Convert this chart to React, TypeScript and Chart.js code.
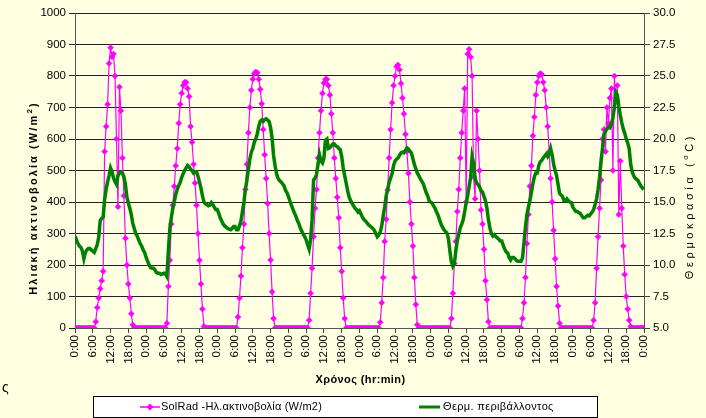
import React, { useEffect, useRef } from "react";
import { Chart, registerables } from "chart.js";

Chart.register(...registerables);

// Half-hour samples, 48 per day, 8 days (+ final midnight point)
const STEP_HOURS = 0.5;

// Solar radiation (W/m2)
const radDay1 = [0,0,0,0,0,0,0,0,0,0,0,0,0,0,20,65,95,125,150,180,560,640,710,840,890,860,870,800,600,385,765,690,540,420,285,200,140,95,45,10,0,0,0,0,0,0,0,0];
const radDay2 = [0,0,0,0,0,0,0,0,0,0,0,0,0,0,15,132,215,330,390,450,515,570,650,710,745,770,780,780,760,735,640,590,520,460,390,300,215,140,60,5,0,0,0,0,0,0,0,0];
const radDay3 = [0,0,0,0,0,0,0,0,0,0,0,0,0,0,35,95,165,255,330,440,520,620,700,755,790,808,813,810,790,758,712,630,550,475,395,300,216,115,30,0,0,0,0,0,0,0,0,0];
const radDay4 = [0,0,0,0,0,0,0,0,0,0,0,0,0,0,25,110,190,290,380,440,540,620,690,745,778,790,790,770,740,680,620,540,475,415,350,255,180,95,30,0,0,0,0,0,0,0,0,0];
const radDay5 = [0,0,0,0,0,0,0,0,0,0,0,0,0,0,18,80,160,275,345,438,540,630,715,770,800,830,835,820,776,730,680,615,560,491,400,330,260,160,75,10,0,0,0,0,0,0,0,0];
const radDay6 = [0,0,0,0,0,0,0,0,0,0,0,0,0,0,30,110,205,275,370,440,540,620,690,760,400,870,885,860,800,480,410,690,600,500,375,330,250,150,90,20,0,0,0,0,0,0,0,0];
const radDay7 = [0,0,0,0,0,0,0,0,0,0,0,0,0,0,30,80,160,268,360,450,515,610,670,740,780,800,808,805,780,755,700,640,560,475,400,310,220,132,70,15,0,0,0,0,0,0,0,0];
const radDay8 = [0,0,0,0,0,0,0,0,0,0,0,0,0,0,25,80,190,290,380,470,600,630,560,700,650,730,760,500,800,720,770,360,530,380,260,170,100,60,25,5,0,0,0,0,0,0,0,0];
const radFinal = [0];

// Ambient temperature (°C)
const tempDay1 = [12.3,12.0,11.7,11.5,11.4,11.1,10.5,11.0,11.2,11.3,11.3,11.2,11.1,11.0,11.3,11.6,12.2,13.5,13.7,13.8,15.2,16.0,16.6,17.1,17.7,17.4,16.9,16.6,16.4,17.1,17.3,17.4,17.3,17.0,16.4,15.4,14.9,14.5,14.0,13.3,12.9,12.5,12.3,12.0,11.7,11.5,11.2,11.0];
const tempDay2 = [10.6,10.3,10.0,9.8,9.75,9.75,9.6,9.4,9.35,9.35,9.25,9.3,9.35,9.3,9.1,11.1,12.9,13.75,14.5,15.0,15.6,16.0,16.3,16.55,16.95,17.25,17.5,17.7,17.9,17.8,17.6,17.5,17.3,17.4,17.4,17.05,16.6,16.1,15.5,15.0,14.85,14.8,14.7,14.75,14.95,14.8,14.6,14.4];
const tempDay3 = [14.4,14.1,13.75,13.5,13.25,13.1,13.0,12.9,12.85,12.8,12.9,13.05,13.05,12.8,12.8,13.1,13.5,14.25,15.0,16.0,16.7,17.6,18.4,18.95,19.25,19.75,20.0,20.4,21.0,21.4,21.5,21.4,21.55,21.6,21.5,21.4,20.9,20.1,18.7,17.9,17.25,16.9,16.7,16.6,16.45,16.3,15.95,15.75];
const tempDay4 = [15.45,15.1,14.75,14.45,14.15,13.9,13.55,13.3,12.95,12.7,12.45,12.25,12.0,11.6,11.25,12.0,13.6,16.75,16.9,17.2,18.0,18.75,18.25,18.1,18.5,19.9,20.0,19.25,19.3,19.45,19.6,19.6,19.45,19.4,19.25,19.15,18.6,17.7,17.1,16.5,15.9,15.4,15.1,14.9,14.7,14.5,14.4,14.2];
const tempDay5 = [14.3,14.05,13.8,13.6,13.5,13.35,13.2,13.1,13.0,12.9,12.75,12.5,12.25,12.4,12.6,13.1,13.9,14.6,15.5,16.0,16.55,16.9,17.25,17.9,18.25,18.4,18.5,18.7,18.9,18.95,18.9,19.1,19.3,19.2,19.05,18.9,18.45,18.0,17.65,17.3,17.1,16.85,16.65,16.45,16.1,15.75,15.5,15.1];
const tempDay6 = [15.0,14.9,14.7,14.5,14.2,13.95,13.6,13.25,13.0,12.8,12.65,12.55,12.1,11.1,10.25,9.9,10.1,11.1,11.95,12.45,12.95,13.25,13.6,14.25,14.95,15.5,16.25,16.95,18.6,18.1,16.9,16.5,16.4,16.2,15.9,15.8,15.45,15.1,14.5,13.6,12.95,12.5,12.3,12.4,12.25,12.15,12.05,11.9];
const tempDay7 = [11.9,11.55,11.25,11.05,10.95,10.6,10.4,10.6,10.6,10.5,10.35,10.3,10.3,10.3,10.55,11.75,13.0,14.0,14.6,15.1,15.75,16.45,17.0,17.3,17.3,17.9,18.2,18.3,18.5,18.65,18.8,18.6,18.8,19.25,18.75,18.0,17.5,17.1,16.4,15.7,15.55,15.45,15.1,15.1,15.25,15.1,15.0,14.95];
const tempDay8 = [14.6,14.4,14.25,14.25,14.15,14.1,13.9,13.75,13.75,13.85,13.95,13.9,14.05,14.2,14.4,14.8,15.25,16.0,16.95,18.25,19.25,20.4,20.6,20.8,20.95,20.9,21.2,21.7,22.45,23.7,23.5,22.6,21.9,21.3,20.8,20.45,20.0,19.7,19.25,18.0,17.4,17.1,16.9,16.8,16.7,16.45,16.25,16.1];
const tempFinal = [16.2];

const solRad = [...radDay1, ...radDay2, ...radDay3, ...radDay4, ...radDay5, ...radDay6, ...radDay7, ...radDay8, ...radFinal];
const temperature = [...tempDay1, ...tempDay2, ...tempDay3, ...tempDay4, ...tempDay5, ...tempDay6, ...tempDay7, ...tempDay8, ...tempFinal];

const TOTAL_HOURS = 192;
const X_TICK_STEP = 6;
const LEFT_MIN = 0, LEFT_MAX = 1000, LEFT_STEP = 100;
const RIGHT_MIN = 5, RIGHT_MAX = 30, RIGHT_STEP = 2.5;

const radLabel = "SolRad -Ηλ.ακτινοβολία (W/m2)";
const tempLabel = "Θερμ. περιβάλλοντος";
const leftTitle = "Ηλιακή ακτινοβολία (W/m";
const rightTitle = "Θερμοκρασία (";
const xTitle = "Χρόνος (hr:min)";

const W = 706, H = 418;
const BG = "#FFFFE1";
const MAGENTA = "#FF00FF";
const GREEN = "#008000";
const FONT = '"Liberation Sans", Arial, sans-serif';

function setSpacing(ctx: any, px: number) {
  if ("letterSpacing" in ctx) ctx.letterSpacing = `${px}px`;
}

const overlay = {
  id: "overlay",
  beforeDraw(chart: any) {
    const ctx = chart.ctx;
    ctx.save();
    ctx.fillStyle = BG;
    ctx.fillRect(0, 0, W, H);
    ctx.restore();
  },
  afterDraw(chart: any) {
    const ctx = chart.ctx;
    const ca = chart.chartArea;
    ctx.save();
    ctx.fillStyle = "#000";
    ctx.textBaseline = "middle";

    // left title with superscript
    ctx.save();
    ctx.translate(34, 198);
    ctx.rotate(-Math.PI / 2);
    setSpacing(ctx, 2.1);
    ctx.font = `bold 11px ${FONT}`;
    const w1 = ctx.measureText(leftTitle).width;
    ctx.font = `bold 8px ${FONT}`;
    const w2 = ctx.measureText("2").width;
    ctx.font = `bold 11px ${FONT}`;
    const w3 = ctx.measureText(")").width;
    const sx = -(w1 + w2 + w3) / 2;
    ctx.textAlign = "left";
    ctx.fillText(leftTitle, sx, 0);
    ctx.font = `bold 8px ${FONT}`;
    ctx.fillText("2", sx + w1, -4);
    ctx.font = `bold 11px ${FONT}`;
    ctx.fillText(")", sx + w1 + w2, 0);
    ctx.restore();

    // right title
    ctx.save();
    ctx.translate(690, 206);
    ctx.rotate(-Math.PI / 2);
    setSpacing(ctx, 3.6);
    ctx.font = `11px ${FONT}`;
    const r1 = ctx.measureText(rightTitle).width;
    ctx.font = `8px ${FONT}`;
    const r2 = ctx.measureText("o").width;
    ctx.font = `11px ${FONT}`;
    const r3 = ctx.measureText("C)").width;
    const rx = -(r1 + r2 + r3) / 2;
    ctx.textAlign = "left";
    ctx.fillText(rightTitle, rx, 0);
    ctx.font = `8px ${FONT}`;
    ctx.fillText("o", rx + r1, -4);
    ctx.font = `11px ${FONT}`;
    ctx.fillText("C)", rx + r1 + r2, 0);
    ctx.restore();

    // x title
    ctx.save();
    setSpacing(ctx, 0.4);
    ctx.font = `bold 11px ${FONT}`;
    ctx.textAlign = "center";
    ctx.fillText(xTitle, (ca.left + ca.right) / 2 + 1, 380);
    ctx.restore();

    // stray character
    ctx.font = `14px ${FONT}`;
    ctx.textAlign = "left";
    ctx.fillText("ς", 2, 388);

    // legend box
    ctx.fillStyle = "#FFFFFF";
    ctx.fillRect(93, 396, 504, 21);
    ctx.strokeStyle = "#000";
    ctx.lineWidth = 1;
    ctx.strokeRect(93.5, 396.5, 504, 21);

    const ly = 407;
    ctx.strokeStyle = MAGENTA;
    ctx.lineWidth = 1.5;
    ctx.beginPath();
    ctx.moveTo(140, ly);
    ctx.lineTo(160, ly);
    ctx.stroke();
    ctx.fillStyle = MAGENTA;
    ctx.beginPath();
    ctx.moveTo(150, ly - 3.5);
    ctx.lineTo(153.5, ly);
    ctx.lineTo(150, ly + 3.5);
    ctx.lineTo(146.5, ly);
    ctx.closePath();
    ctx.fill();

    ctx.strokeStyle = GREEN;
    ctx.lineWidth = 3;
    ctx.beginPath();
    ctx.moveTo(419, ly);
    ctx.lineTo(440, ly);
    ctx.stroke();

    ctx.fillStyle = "#000";
    ctx.font = `11px ${FONT}`;
    ctx.textAlign = "left";
    ctx.save();
    setSpacing(ctx, 0.2);
    ctx.fillText(radLabel, 161, ly);
    ctx.restore();
    ctx.save();
    setSpacing(ctx, 0.35);
    ctx.fillText(tempLabel, 443, ly);
    ctx.restore();

    ctx.restore();
  },
};

export default function App() {
  const ref = useRef<HTMLCanvasElement | null>(null);

  useEffect(() => {
    const canvas = ref.current;
    if (!canvas) return;
    const tickFont = { family: FONT, size: 11.5 };
    const chart = new Chart(canvas, {
      type: "line",
      data: {
        datasets: [
          {
            label: tempLabel,
            data: temperature.map((v, i) => ({ x: i * STEP_HOURS, y: v })),
            yAxisID: "y1",
            borderColor: GREEN,
            backgroundColor: GREEN,
            borderWidth: 3.5,
            pointRadius: 0,
            tension: 0,
            order: 0,
          },
          {
            label: radLabel,
            data: solRad.map((v, i) => ({ x: i * STEP_HOURS, y: v })),
            yAxisID: "y",
            borderColor: MAGENTA,
            backgroundColor: MAGENTA,
            borderWidth: 1.2,
            pointStyle: "rectRot",
            pointRadius: 3,
            pointBorderWidth: 0.5,
            pointBorderColor: MAGENTA,
            pointBackgroundColor: MAGENTA,
            tension: 0,
            order: 1,
          },
        ],
      },
      options: {
        animation: false,
        responsive: false,
        maintainAspectRatio: false,
        layout: { padding: { top: 13, left: 0, right: 0, bottom: 0 } },
        plugins: {
          legend: { display: false },
          tooltip: { enabled: false },
          title: { display: false },
        },
        scales: {
          x: {
            type: "linear",
            min: 0,
            max: TOTAL_HOURS,
            ticks: {
              stepSize: X_TICK_STEP,
              autoSkip: false,
              minRotation: 90,
              maxRotation: 90,
              padding: 2,
              color: "#000",
              font: tickFont,
              callback: (v: any) => `${Number(v) % 24}:00`,
            },
            grid: { drawOnChartArea: false, drawTicks: true, tickLength: 5, color: "#444" },
            border: { color: "#555", width: 1 },
            afterFit: (s: any) => { s.height = H - 328; },
          },
          y: {
            type: "linear",
            position: "left",
            min: LEFT_MIN,
            max: LEFT_MAX,
            ticks: {
              stepSize: LEFT_STEP,
              padding: 3,
              color: "#000",
              font: tickFont,
              callback: (v: any) => String(v),
            },
            grid: { color: "#222", tickLength: 6, lineWidth: 1 },
            border: { color: "#555", width: 1 },
            afterFit: (s: any) => { s.width = 75; },
          },
          y1: {
            type: "linear",
            position: "right",
            min: RIGHT_MIN,
            max: RIGHT_MAX,
            ticks: {
              stepSize: RIGHT_STEP,
              padding: 3,
              color: "#000",
              font: tickFont,
              callback: (v: any) => Number(v).toFixed(1),
            },
            grid: { drawOnChartArea: false, tickLength: 6, color: "#444" },
            border: { color: "#555", width: 1 },
            afterFit: (s: any) => { s.width = W - 644; },
          },
        },
      },
      plugins: [overlay],
    });
    return () => chart.destroy();
  }, []);

  return (
    <div style={{ position: "fixed", left: 0, top: 0, width: W, height: H, background: BG }}>
      <canvas ref={ref} width={W} height={H} style={{ display: "block", width: W, height: H }} />
    </div>
  );
}
